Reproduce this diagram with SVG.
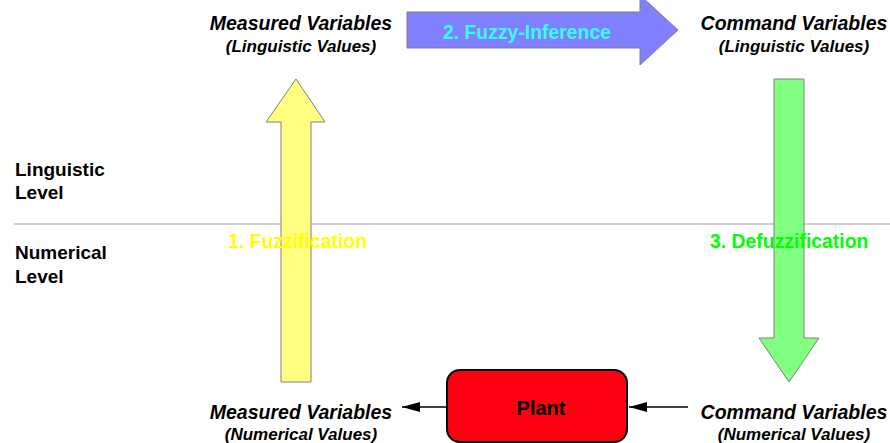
<svg xmlns="http://www.w3.org/2000/svg" width="890" height="443" viewBox="0 0 890 443">
  <style>
    .lbl { font-family: "Liberation Sans", Arial, sans-serif; font-weight: bold; font-style: italic; fill: #000; }
    .main { font-size: 19.5px; }
    .sub { font-size: 17px; }
    .lvl { font-family: "Liberation Sans", Arial, sans-serif; font-weight: bold; font-size: 19px; fill: #000; }
    .step { font-family: "Liberation Sans", Arial, sans-serif; font-weight: bold; font-size: 19.4px; }
    .big { stroke: #808080; stroke-width: 1; }
    .conn { stroke: #000; stroke-width: 1.5; fill: none; }
  </style>
  <defs>
    <marker id="ah" viewBox="0 0 18 10" refX="18" refY="5" markerWidth="18" markerHeight="10" markerUnits="userSpaceOnUse" orient="auto">
      <path d="M0,0 L18,5 L0,10 Z" fill="#000"/>
    </marker>
  </defs>
  <rect width="890" height="443" fill="#fff"/>

  <!-- level divider -->
  <line x1="14" y1="224" x2="890" y2="224" stroke="#a0a0a0" stroke-width="1.2"/>

  <g id="level-labels">
    <text class="lvl" x="15" y="176">Linguistic</text>
    <text class="lvl" x="15" y="199">Level</text>
    <text class="lvl" x="15" y="259">Numerical</text>
    <text class="lvl" x="15" y="283">Level</text>
  </g>

  <!-- step 1: fuzzification -->
  <g id="fuzzification">
    <polygon class="big" fill="#ffff80" points="281,382 311,382 311,122 325,122 296,79 266,122 281,122"/>
    <text class="step" x="228" y="248" fill="#ffff00">1. Fuzzification</text>
  </g>

  <!-- step 2: fuzzy inference -->
  <g id="fuzzy-inference">
    <polygon class="big" fill="#8080ff" points="407,12 640,12 640,-5 678,30 640,65 640,48 407,48"/>
    <text class="step" x="527" y="39" fill="#33ffff" text-anchor="middle">2. Fuzzy-Inference</text>
  </g>

  <!-- step 3: defuzzification -->
  <g id="defuzzification">
    <polygon class="big" fill="#80ff80" points="774,79 804,79 804,338 819,338 789,382 759,338 774,338"/>
    <text class="step" x="710" y="248" fill="#00ff00">3. Defuzzification</text>
  </g>

  <g id="measured-linguistic">
    <text class="lbl main" x="301" y="30" text-anchor="middle">Measured Variables</text>
    <text class="lbl sub" x="301" y="52" text-anchor="middle">(Linguistic Values)</text>
  </g>

  <g id="command-linguistic">
    <text class="lbl main" x="794" y="30" text-anchor="middle">Command Variables</text>
    <text class="lbl sub" x="794" y="52" text-anchor="middle">(Linguistic Values)</text>
  </g>

  <g id="measured-numerical">
    <text class="lbl main" x="301" y="419" text-anchor="middle">Measured Variables</text>
    <text class="lbl sub" x="301" y="440" text-anchor="middle">(Numerical Values)</text>
  </g>

  <g id="command-numerical">
    <text class="lbl main" x="794" y="419" text-anchor="middle">Command Variables</text>
    <text class="lbl sub" x="794" y="440" text-anchor="middle">(Numerical Values)</text>
  </g>

  <g id="plant">
    <rect x="447" y="370" width="180" height="72" rx="13" ry="13" fill="#ff0010" stroke="#000" stroke-width="2"/>
    <text class="lvl" x="541" y="415" text-anchor="middle" style="font-size:20px">Plant</text>
  </g>

  <g id="connectors">
    <line class="conn" x1="446" y1="407" x2="402" y2="407" marker-end="url(#ah)"/>
    <line class="conn" x1="688" y1="407" x2="629" y2="407" marker-end="url(#ah)"/>
  </g>
</svg>
